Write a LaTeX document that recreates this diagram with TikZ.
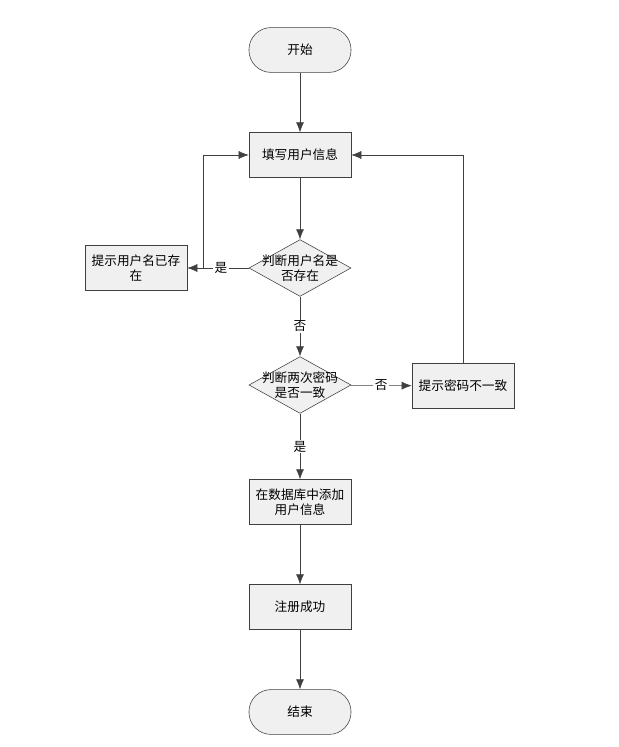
\documentclass[tikz,border=0pt]{standalone}
\usepackage{fontspec}
\newfontfamily\cjk{Noto Sans CJK SC}
\usetikzlibrary{shapes.geometric,arrows.meta}
\begin{document}
\begin{tikzpicture}[x=0.025cm,y=-0.025cm,
  every node/.style={font=\cjk\fontsize{9}{11}\selectfont},
  box/.style={draw=black!75,fill=green!4!gray!12,minimum width=2.55cm,minimum height=1.12cm,align=center,text width=2.3cm},
  pill/.style={box,rounded corners=0.55cm},
  dia/.style={draw=black!75,fill=green!4!gray!12,diamond,minimum width=2.55cm,minimum height=1.42cm,inner sep=0pt},
  dtext/.style={align=center,inner sep=0pt},
  arr/.style={draw=black!75,-{Latex[length=2.5mm,width=2mm]}},
  lbl/.style={fill=white,inner sep=1pt}]
\useasboundingbox (0,0) rectangle (618,747);
\node[pill] (s) at (300,50) {开始};
\node[box] (f) at (300,155) {填写用户信息};
\node[dia] (d1) at (300,268) {};
\node[dtext] at (300,268) {判断用户名是\\否存在};
\node[box] (e1) at (136,268) {提示用户名已存\\在};
\node[dia] (d2) at (300,385) {};
\node[dtext] at (300,385) {判断两次密码\\是否一致};
\node[box] (e2) at (463,386) {提示密码不一致};
\node[box] (a) at (300,502) {在数据库中添加\\用户信息};
\node[box] (r) at (300,607) {注册成功};
\node[pill] (t) at (300,712) {结束};
\coordinate (j) at (203,268);
\draw[arr] (s) -- (f);
\draw[arr] (f) -- (d1);
\draw[arr] (d1) -- node[lbl,pos=0.45]{是} (e1);
\draw[arr] (j) |- (f);
\draw[arr] (d1) -- node[lbl]{否} (d2);
\draw[arr] (d2) -- node[lbl]{否} (e2);
\draw[arr] (e2) |- (f);
\draw[arr] (d2) -- node[lbl]{是} (a);
\draw[arr] (a) -- (r);
\draw[arr] (r) -- (t);
\end{tikzpicture}
\end{document}
